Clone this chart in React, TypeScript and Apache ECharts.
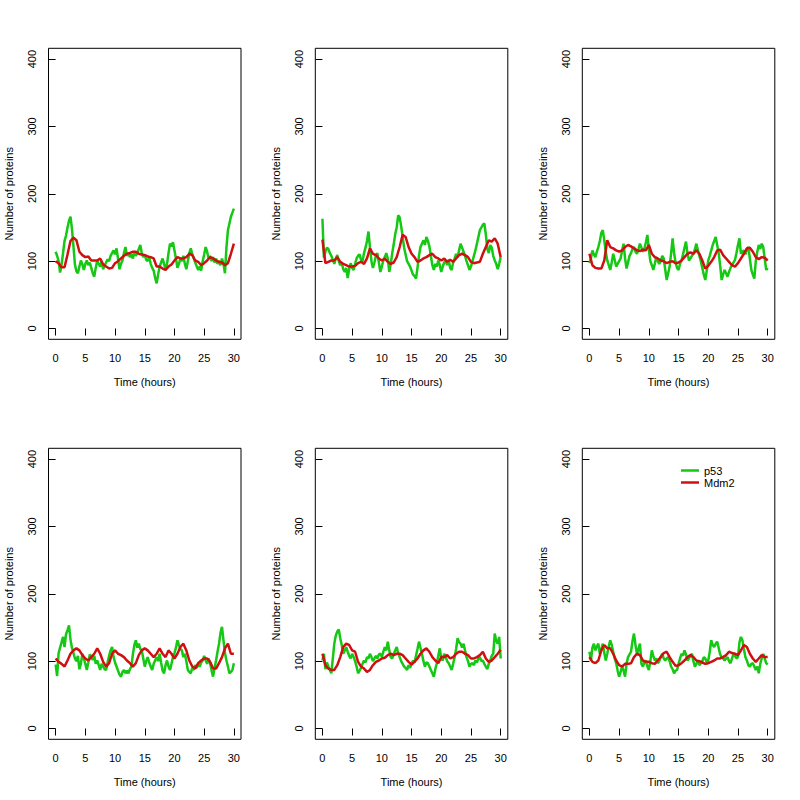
import React, { useEffect, useRef } from "react";
import * as echarts from "echarts";

// ---------- data ----------
const P53_STEP = 0.25; // hours between p53 samples
const MDM2_STEP = 0.5; // hours between Mdm2 samples
const xTicks = [0, 5, 10, 15, 20, 25, 30];
const yTicks = [0, 100, 200, 300, 400];

const p53Run1 = [
  114, 108, 100, 83, 95, 112, 130, 138, 150, 160, 166, 148, 122, 95, 85, 82,
  92, 101, 95, 87, 96, 101, 94, 98, 90, 82, 77, 90, 101, 96, 92, 100,
  88, 94, 98, 103, 100, 108, 112, 116, 110, 119, 104, 88, 96, 101, 112, 121,
  108, 112, 106, 110, 104, 114, 108, 112, 118, 124, 112, 106, 110, 102, 100, 106,
  96, 90, 86, 75, 67, 80, 92, 98, 104, 96, 88, 96, 112, 126, 122, 128,
  116, 104, 90, 96, 104, 100, 108, 96, 88, 100, 112, 119, 110, 104, 98, 92,
  87, 92, 86, 100, 110, 121, 114, 104, 108, 100, 106, 98, 104, 96, 100, 94,
  104, 96, 82, 120, 146, 156, 166, 172, 178,
];
const mdm2Run1 = [
  100, 97, 91, 91, 110, 130, 135, 131, 114, 109,
  106, 107, 101, 101, 101, 104, 95, 92, 89, 90,
  97, 100, 104, 108, 111, 112, 114, 114, 111, 110,
  109, 107, 106, 104, 92, 92, 89, 87, 92, 95,
  101, 106, 104, 104, 106, 111, 109, 101, 99, 94,
  97, 101, 106, 104, 101, 99, 98, 94, 97, 111,
  126,
];

const p53Run2 = [
  163, 105, 114, 120, 118, 112, 108, 102, 96, 104, 109, 100, 94, 98, 88, 84,
  90, 75, 88, 97, 90, 87, 96, 104, 108, 110, 102, 100, 112, 120, 130, 144,
  120, 100, 90, 98, 108, 112, 98, 84, 92, 101, 106, 112, 104, 84, 96, 112,
  125, 140, 150, 168, 165, 152, 136, 120, 110, 100, 96, 92, 86, 80, 78, 74,
  90, 108, 121, 126, 131, 124, 136, 130, 122, 108, 94, 87, 96, 92, 101, 94,
  84, 92, 98, 101, 94, 102, 90, 87, 98, 104, 111, 106, 116, 126, 120, 114,
  108, 100, 94, 87, 92, 100, 108, 116, 126, 136, 146, 150, 154, 156, 140, 118,
  112, 124, 120, 108, 101, 96, 88, 96, 106,
];
const mdm2Run2 = [
  132, 97, 99, 101, 101, 106, 99, 96, 94, 92,
  92, 93, 97, 99, 96, 104, 119, 111, 109, 104,
  101, 104, 99, 96, 98, 106, 121, 139, 136, 121,
  111, 106, 99, 101, 104, 106, 109, 111, 106, 104,
  101, 104, 99, 102, 99, 104, 109, 111, 109, 106,
  99, 97, 98, 99, 111, 121, 131, 129, 134, 126,
  106,
];

const p53Run3 = [
  97, 104, 116, 110, 106, 114, 121, 130, 142, 146, 131, 114, 101, 94, 87, 98,
  111, 102, 92, 96, 100, 104, 116, 126, 104, 89, 98, 108, 112, 118, 121, 114,
  111, 118, 126, 120, 114, 118, 128, 139, 118, 100, 94, 87, 96, 106, 100, 96,
  100, 108, 104, 88, 72, 82, 92, 112, 134, 112, 98, 90, 87, 96, 101, 110,
  120, 129, 112, 101, 104, 108, 111, 118, 126, 116, 108, 100, 90, 80, 72, 86,
  101, 108, 116, 124, 130, 136, 124, 112, 94, 72, 80, 87, 82, 77, 84, 90,
  94, 98, 102, 112, 124, 134, 111, 114, 116, 110, 118, 121, 104, 87, 80, 74,
  100, 114, 124, 118, 126, 121, 104, 87, 90,
];
const mdm2Run3 = [
  111, 94, 90, 89, 89, 101, 131, 121, 119, 116,
  114, 116, 121, 124, 122, 119, 116, 115, 117, 116,
  124, 111, 106, 104, 101, 100, 97, 99, 100, 97,
  98, 101, 106, 111, 113, 111, 116, 111, 101, 89,
  93, 99, 106, 116, 117, 109, 104, 99, 94, 92,
  97, 104, 111, 119, 120, 114, 106, 103, 106, 105,
  101,
];

const p53Run4 = [
  95, 78, 112, 120, 128, 136, 121, 140, 146, 153, 132, 120, 112, 104, 100, 108,
  88, 96, 111, 104, 96, 87, 98, 110, 106, 102, 108, 96, 101, 94, 87, 96,
  92, 88, 87, 98, 108, 116, 121, 106, 98, 92, 86, 80, 77, 84, 87, 82,
  86, 82, 88, 92, 110, 124, 131, 120, 126, 118, 116, 104, 92, 100, 106, 98,
  92, 87, 96, 101, 106, 100, 111, 98, 86, 82, 94, 101, 92, 87, 96, 106,
  112, 120, 131, 124, 118, 116, 106, 111, 100, 87, 84, 82, 90, 87, 94, 90,
  96, 92, 98, 101, 108, 101, 96, 104, 97, 86, 77, 90, 101, 114, 126, 142,
  151, 131, 112, 101, 92, 82, 84, 87, 97,
];
const mdm2Run4 = [
  104, 99, 96, 92, 101, 111, 116, 119, 116, 109,
  104, 101, 106, 111, 119, 111, 99, 92, 97, 111,
  116, 111, 109, 106, 101, 97, 92, 97, 109, 116,
  119, 116, 111, 106, 111, 119, 111, 106, 116, 111,
  104, 111, 121, 126, 116, 101, 92, 89, 97, 101,
  104, 104, 99, 89, 89, 97, 106, 119, 126, 111,
  111,
];

const p53Run5 = [
  101, 111, 88, 98, 92, 87, 82, 104, 126, 138, 144, 147, 134, 124, 111, 116,
  121, 114, 108, 104, 111, 106, 100, 92, 82, 86, 90, 96, 101, 98, 106, 104,
  111, 106, 100, 104, 108, 104, 110, 111, 106, 114, 121, 116, 129, 116, 106, 104,
  111, 116, 121, 112, 106, 100, 96, 92, 90, 87, 94, 90, 96, 101, 98, 108,
  118, 129, 120, 111, 100, 92, 98, 97, 92, 87, 82, 77, 88, 97, 108, 119,
  104, 101, 111, 106, 100, 97, 92, 87, 96, 106, 118, 134, 128, 126, 120, 126,
  116, 106, 100, 92, 96, 97, 94, 101, 98, 104, 106, 100, 101, 96, 92, 88,
  96, 101, 108, 111, 141, 130, 126, 136, 104,
];
const mdm2Run5 = [
  111, 94, 89, 87, 87, 94, 106, 121, 126, 124,
  116, 114, 99, 92, 89, 84, 87, 94, 99, 101,
  104, 105, 109, 111, 109, 111, 111, 109, 104, 99,
  95, 99, 104, 111, 116, 119, 114, 106, 101, 97,
  106, 106, 109, 104, 106, 111, 114, 114, 111, 109,
  104, 104, 106, 109, 114, 104, 99, 101, 106, 111,
  117,
];

const p53Run6 = [
  114, 101, 120, 126, 116, 122, 126, 111, 118, 126, 112, 101, 111, 122, 131, 124,
  114, 104, 97, 86, 77, 84, 92, 86, 77, 96, 106, 110, 114, 130, 141, 124,
  111, 118, 126, 96, 92, 98, 101, 92, 87, 100, 116, 108, 101, 104, 97, 100,
  106, 111, 104, 101, 104, 106, 100, 92, 88, 82, 86, 87, 96, 104, 111, 108,
  116, 110, 101, 104, 108, 111, 100, 92, 96, 101, 94, 97, 100, 106, 104, 98,
  101, 114, 131, 124, 121, 126, 129, 120, 110, 106, 104, 101, 104, 106, 100, 97,
  104, 111, 108, 104, 106, 128, 136, 131, 118, 106, 101, 94, 92, 96, 97, 92,
  87, 92, 82, 96, 104, 111, 104, 97, 95,
];
const mdm2Run6 = [
  106, 99, 97, 101, 116, 124, 119, 119, 111, 101,
  94, 92, 96, 96, 97, 106, 111, 109, 101, 99,
  99, 97, 96, 101, 106, 112, 114, 106, 99, 93,
  94, 97, 101, 106, 109, 106, 101, 100, 98, 96,
  97, 99, 101, 104, 104, 106, 109, 114, 112, 111,
  109, 116, 124, 121, 111, 104, 99, 104, 109, 106,
  106,
];

const runs = [
  { p53: p53Run1, mdm2: mdm2Run1 },
  { p53: p53Run2, mdm2: mdm2Run2 },
  { p53: p53Run3, mdm2: mdm2Run3 },
  { p53: p53Run4, mdm2: mdm2Run4 },
  { p53: p53Run5, mdm2: mdm2Run5 },
  { p53: p53Run6, mdm2: mdm2Run6 },
];

// ---------- styling / layout ----------
const FONT = "'Liberation Sans', Arial, sans-serif";
const GREEN = "#14c814";
const RED = "#d01010";
const COL_LEFTS = [48.5, 315.3, 582.3];
const ROW_TOPS = [48.3, 448.3];
const GRID_W = 192.5;
const GRID_H = 291;

export default function App() {
  const ref = useRef<HTMLDivElement>(null);

  useEffect(() => {
    document.body.style.margin = "0";
    if (!ref.current) return;
    const chart = echarts.init(ref.current, undefined, { renderer: "svg" });

    const grids: any[] = [];
    const xAxes: any[] = [];
    const yAxes: any[] = [];
    const series: any[] = [];

    runs.forEach((run, i) => {
      const col = i % 3;
      const row = Math.floor(i / 3);
      grids.push({
        left: COL_LEFTS[col],
        top: ROW_TOPS[row],
        width: GRID_W,
        height: GRID_H,
        show: true,
        borderColor: "#000",
        borderWidth: 1,
        backgroundColor: "transparent",
        containLabel: false,
      });
      xAxes.push({
        type: "value",
        gridIndex: i,
        min: -1.2,
        max: 31.2,
        name: "Time (hours)",
        nameLocation: "middle",
        nameGap: 37,
        nameTextStyle: { fontFamily: FONT, fontSize: 11, color: "#000" },
        axisLine: { show: false },
        axisTick: {
          show: true,
          length: 7,
          lineStyle: { color: "#000", width: 1 },
          customValues: xTicks,
        },
        axisLabel: {
          fontFamily: FONT,
          fontSize: 11,
          color: "#000",
          margin: 13,
          customValues: xTicks,
        },
        splitLine: { show: false },
      });
      yAxes.push({
        type: "value",
        gridIndex: i,
        min: -16,
        max: 416,
        name: "Number of proteins",
        nameLocation: "middle",
        nameGap: 34,
        nameTextStyle: { fontFamily: FONT, fontSize: 11, color: "#000" },
        axisLine: { show: false },
        axisTick: {
          show: true,
          length: 7,
          lineStyle: { color: "#000", width: 1 },
          customValues: yTicks,
        },
        axisLabel: {
          fontFamily: FONT,
          fontSize: 11,
          color: "#000",
          rotate: 90,
          margin: 11,
          customValues: yTicks,
        },
        splitLine: { show: false },
      });
      series.push({
        name: "p53",
        type: "line",
        xAxisIndex: i,
        yAxisIndex: i,
        symbol: "none",
        data: run.p53.map((v, k) => [k * P53_STEP, v]),
        lineStyle: { color: GREEN, width: 2.5 },
        itemStyle: { color: GREEN },
        z: 2,
      });
      series.push({
        name: "Mdm2",
        type: "line",
        xAxisIndex: i,
        yAxisIndex: i,
        symbol: "none",
        data: run.mdm2.map((v, k) => [k * MDM2_STEP, v]),
        lineStyle: { color: RED, width: 2.5 },
        itemStyle: { color: RED },
        z: 3,
      });
    });

    chart.setOption({
      animation: false,
      backgroundColor: "#fff",
      grid: grids,
      xAxis: xAxes,
      yAxis: yAxes,
      series,
      legend: {
        data: ["p53", "Mdm2"],
        orient: "vertical",
        left: 681,
        top: 465,
        icon: "rect",
        itemWidth: 18,
        itemHeight: 2.5,
        itemGap: 1,
        padding: 0,
        selectedMode: false,
        textStyle: { fontFamily: FONT, fontSize: 11, color: "#000" },
      },
    });

    return () => chart.dispose();
  }, []);

  return <div ref={ref} style={{ width: 800, height: 800 }} />;
}
